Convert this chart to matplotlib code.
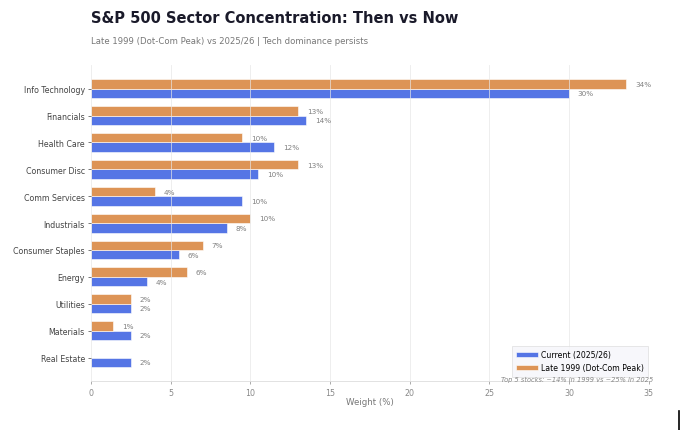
import matplotlib
matplotlib.use("Agg")
import matplotlib.pyplot as plt
import numpy as np
from matplotlib.lines import Line2D

sectors = [
    "Info Technology", "Financials", "Health Care", "Consumer Disc",
    "Comm Services", "Industrials", "Consumer Staples", "Energy",
    "Utilities", "Materials", "Real Estate",
]
weights_current = [30.0, 13.5, 11.5, 10.5, 9.5, 8.5, 5.5, 3.5, 2.5, 2.5, 2.5]
weights_1999 = [33.6, 13.0, 9.5, 13.0, 4.0, 10.0, 7.0, 6.0, 2.5, 1.4, 0.0]

color_current = "#5575e5"
color_1999 = "#dd9456"
bar_height = 0.35

figure = plt.figure(figsize=(6.8, 4.31), dpi=100)
axis = figure.add_axes([0.134, 0.113, 0.82, 0.734])

positions = np.arange(len(sectors))
bars_current = axis.barh(
    positions + bar_height / 2, weights_current, height=bar_height,
    color=color_current, edgecolor="white", linewidth=0.4,
    label="Current (2025/26)",
)
bars_1999 = axis.barh(
    positions - bar_height / 2, weights_1999, height=bar_height,
    color=color_1999, edgecolor="white", linewidth=0.4,
    label="Late 1999 (Dot-Com Peak)",
)

# value labels at bar ends
for bars, values in [(bars_current, weights_current), (bars_1999, weights_1999)]:
    for bar, value in zip(bars, values):
        if value <= 0:
            continue
        axis.text(
            value + 0.55, bar.get_y() + bar.get_height() / 2, f"{value:.0f}%",
            va="center", ha="left", fontsize=5.2, color="#808080",
        )

axis.set_yticks(positions)
axis.set_yticklabels(sectors, fontsize=5.7, color="#222222")
axis.invert_yaxis()
axis.set_xlim(0, 35)
axis.set_xticks(range(0, 36, 5))
axis.tick_params(axis="x", labelsize=5.7, colors="#888888", length=2, width=0.5, pad=2.5)
axis.tick_params(axis="y", length=2.5, width=0.5, colors="#444444", pad=2)
axis.set_xlabel("Weight (%)", fontsize=6.2, color="#777777", labelpad=0)

axis.grid(axis="x", color="#e6e6e6", linewidth=0.6, alpha=0.8)
for side in ["top", "right", "left"]:
    axis.spines[side].set_visible(False)
axis.spines["bottom"].set_color("#dddddd")
axis.spines["bottom"].set_linewidth(0.6)

legend = axis.legend(
    loc="lower right", bbox_to_anchor=(0.999, 0.015), fontsize=5.6,
    frameon=True, fancybox=False, borderpad=0.55, handlelength=2.8,
    handleheight=0.7, handletextpad=0.4, labelspacing=0.5, borderaxespad=0.0,
)
legend.get_frame().set_facecolor("#f6f6fa")
legend.get_frame().set_edgecolor("#dddddd")
legend.get_frame().set_linewidth(0.6)

axis.text(
    1.008, 0.006, "Top 5 stocks: ~14% in 1999 vs ~25% in 2025",
    transform=axis.transAxes, ha="right", va="center",
    fontsize=4.8, color="#888888", style="italic", zorder=10,
)

figure.text(
    0.134, 0.956, "S&P 500 Sector Concentration: Then vs Now",
    fontsize=10.5, fontweight="bold", color="#1a1a2a", va="center", ha="left",
)
figure.text(
    0.134, 0.903, "Late 1999 (Dot-Com Peak) vs 2025/26 | Tech dominance persists",
    fontsize=6.1, color="#777777", va="center", ha="left",
)

# thin dark mark at lower right edge as in the reference
figure.add_artist(Line2D([0.9985, 0.9985], [0.0, 0.045], color="black", linewidth=1.2,
                         transform=figure.transFigure))

figure.savefig("out.png", dpi=100)
